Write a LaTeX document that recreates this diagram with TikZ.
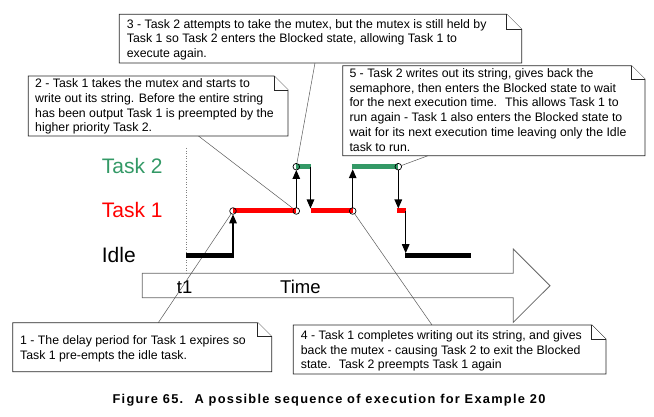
\documentclass[tikz,border=0pt]{standalone}
\usepackage{fontspec}
\setmainfont{Liberation Sans}
\newfontfamily\captionfamily[LetterSpace=10]{Liberation Sans}
\usetikzlibrary{arrows.meta}

\definecolor{taskgreen}{RGB}{51,153,102}
\definecolor{taskred}{RGB}{255,0,0}
\definecolor{edgegray}{gray}{0.35}

\newcommand\notefont{\fontsize{12.3}{14.7}\selectfont}

% note box with a folded top-right corner: x1, y1, x2, y2, fold
\newcommand\notebox[5]{%
  \filldraw[noteedge] (#1,#2) -- ({#3-#5},#2) -- (#3,{#2+#5}) -- (#3,#4) -- (#1,#4) -- cycle;
  \draw[noteedge] ({#3-#5},#2) -- ({#3-#5},{#2+#5}) -- (#3,{#2+#5});
}

\tikzset{
  noteedge/.style={draw=black!85, fill=white, line width=0.8pt, line join=miter},
  notetext/.style={anchor=base west, inner sep=0pt, font=\notefont},
  leader/.style={draw=edgegray, line width=0.5pt},
  runbar/.style={line width=5pt},
  switch/.style={line width=1.2pt, -{Triangle[width=7.5pt,length=9pt]}},
  event/.style={circle, draw=black, line width=0.7pt, inner sep=0pt, minimum size=6.6pt},
  tasklabel/.style={anchor=base west, inner sep=0pt, font=\fontsize{21}{24}\selectfont},
  timelabel/.style={anchor=base west, inner sep=0pt, font=\fontsize{18.5}{22}\selectfont},
}

\begin{document}
\begin{tikzpicture}[x=1pt,y=-1pt]
\useasboundingbox (0,0) rectangle (654,417);

% event points on the time line
\coordinate (e1) at (233,211);
\coordinate (e2) at (296.3,211);
\coordinate (e3) at (296.3,166.7);
\coordinate (e4) at (310.5,166.7);
\coordinate (e5) at (310.5,208.5);
\coordinate (e6) at (352.7,211);
\coordinate (e7) at (352.7,169.2);
\coordinate (e8) at (398.3,166.7);
\coordinate (e9) at (398.3,208.5);
\coordinate (e10) at (405.7,211);
\coordinate (e11) at (405.7,253.2);
\coordinate (i1) at (233,253.2);

% priority labels
\node[tasklabel, text=taskgreen] (lt2) at (101.7,173.5) {Task 2};
\node[tasklabel, text=taskred] (lt1) at (101.7,217.5) {Task 1};
\node[tasklabel] (lti) at (101.7,262.3) {Idle};

% time axis arrow
\filldraw[draw=black!60, fill=white, line width=0.8pt, line join=miter]
  (142.3,273.3) -- (513.3,273.3) -- (513.3,249) -- (550,285.7)
  -- (513.3,322.3) -- (513.3,297.7) -- (142.3,297.7) -- cycle;
\draw[gray, dotted, line width=0.6pt] (186.7,148) -- (186.7,273.3);
\node[timelabel] (t1) at (176.7,293) {t1};
\node[timelabel] (time) at (280,293) {Time};

% leader lines from the notes to the events
\coordinate (n1) at (158.3,322.7);
\coordinate (n2) at (198.5,136);
\coordinate (n3) at (315,63);
\coordinate (n4) at (432,325);
\coordinate (n5) at (428,155.7);
\draw[leader, shorten >=3.3pt] (n1) -- (e1);
\draw[leader, shorten >=3.3pt] (n2) -- (e2);
\draw[leader, shorten >=3.3pt] (n3) -- (e3);
\draw[leader, shorten >=3.3pt] (n4) -- (e6);
\draw[leader, shorten >=3.3pt] (n5) -- (e8);

% running periods
\draw[runbar] (186,255.7) -- (234,255.7);
\draw[runbar, taskred] (233,211) -- (296.3,211);
\draw[runbar, taskgreen] (296.3,166.7) -- (310.7,166.7);
\draw[runbar, taskred] (310.5,211) -- (352.7,211);
\draw[runbar, taskgreen] (351.7,166.7) -- (398.3,166.7);
\draw[runbar, taskred] (396.7,211) -- (406,211);
\draw[runbar] (405,255.7) -- (471,255.7);

% context switches
\draw[switch, shorten >=3.3pt] (i1) -- (e1);
\draw[switch, shorten <=3.3pt, shorten >=3.3pt] (e2) -- (e3);
\draw[switch] (e4) -- (e5);
\draw[switch, shorten <=3.3pt] (e6) -- (e7);
\draw[switch, shorten <=3.3pt] (e8) -- (e9);
\draw[switch] (e10) -- (e11);

% event markers
\foreach \p in {e1,e2,e3,e6,e8} \node[event] at (\p) {};

% notes
\notebox{119.3}{14.3}{521.7}{63}{15}
\node[notetext] (note3) at (126.7,28.3) {\parbox[t]{420pt}{\raggedright
3 - Task 2 attempts to take the mutex, but the mutex is still held by\\
Task 1 so Task 2 enters the Blocked state, allowing Task 1 to\\
execute again.}};

\notebox{28.3}{76}{288}{136}{14}
\node[notetext] (note2) at (35,87.8) {\parbox[t]{300pt}{\raggedright
2 - Task 1 takes the mutex and starts to\\
write out its string. Before the entire string\\
has been output Task 1 is preempted by the\\
higher priority Task 2.}};

\notebox{342.7}{65.7}{645}{155.7}{13.5}
\node[notetext] (note5) at (349.3,77.6) {\parbox[t]{320pt}{\raggedright
5 - Task 2 writes out its string, gives back the\\
semaphore, then enters the Blocked state to wait\\
for the next execution time.~ This allows Task 1 to\\
run again - Task 1 also enters the Blocked state to\\
wait for its next execution time leaving only the Idle\\
task to run.}};

\notebox{12.7}{322.7}{271.7}{371.7}{14}
\node[notetext] (note1) at (20,344.5) {\parbox[t]{300pt}{\raggedright
1 - The delay period for Task 1 expires so\\
Task 1 pre-empts the idle task.}};

\notebox{293.3}{325}{606}{374}{14.3}
\node[notetext] (note4) at (300.7,339.5) {\parbox[t]{330pt}{\raggedright
4 - Task 1 completes writing out its string, and gives\\
back the mutex - causing Task 2 to exit the Blocked\\
state.~ Task 2 preempts Task 1 again}};

% caption
\node[anchor=base, inner sep=0pt, font=\captionfamily\bfseries\fontsize{12.8}{15}\selectfont] (caption) at (329,403)
  {Figure 65.~ A possible sequence of execution for Example 20};
\end{tikzpicture}
\end{document}
